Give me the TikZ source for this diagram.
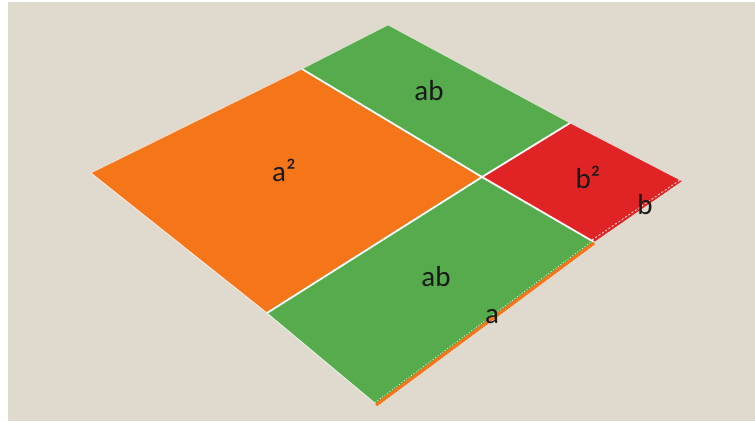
\documentclass[tikz,border=0pt]{standalone}
\usepackage{fontspec}
\setmainfont{Carlito}
\usetikzlibrary{calc}
\definecolor{bg}{HTML}{E0D9CE}
\definecolor{org}{HTML}{F57519}
\definecolor{grn}{HTML}{56AB4C}
\definecolor{rd}{HTML}{E02426}
\begin{document}
\begin{tikzpicture}[x=1pt,y=-1pt,
  lbl/.style={font=\fontsize{29}{31}\selectfont,text=black!90,inner sep=0pt}]
\useasboundingbox (0,0) rectangle (755,421);
\fill[white] (0,0) rectangle (755,421);
\fill[bg] (8,2) rectangle (755,421);
% vertices
\coordinate (L) at (91,173);
\coordinate (T1) at (302,69);
\coordinate (C) at (482,177);
\coordinate (B1) at (267,313);
\coordinate (T2) at (388,25);
\coordinate (R1) at (570,123);
\coordinate (R2) at (682,181);
\coordinate (R3) at (594,242);
\coordinate (B2) at (376,404);
% faces
\fill[org] (L) -- (T1) -- (C) -- (B1) -- cycle;
\fill[grn] (T1) -- (T2) -- (R1) -- (C) -- cycle;
\fill[rd] (C) -- (R1) -- (R2) -- (R3) -- cycle;
\fill[grn] (C) -- (R3) -- (B2) -- (B1) -- cycle;
% separating lines
\draw[white,line width=1.8pt] (T1) -- (C) -- (B1);
\draw[white,line width=1.8pt] (R1) -- (C) -- (R3);
\draw[white,line width=0.6pt,opacity=0.6] (L) -- (T1) -- (T2) -- (R1) -- (R2);
\draw[white,line width=0.8pt,opacity=0.8] (B2) -- (B1) -- (L);
% bottom-right edges
\draw[org,line width=3.2pt] ($(B2)+(0,1)$) -- ($(R3)+(0,1)$);
\draw[white,line width=0.6pt,dash pattern=on 1pt off 2pt] ($(B2)+(-1,-1.5)$) -- ($(R3)+(-1,-1.5)$);
\draw[white,line width=0.7pt,dash pattern=on 2pt off 2pt] ($(R3)+(-2,-2)$) -- ($(R2)+(-2,-1)$);
% labels
\node[lbl] (a2) at (284,170) {a²};
\node[lbl] (ab1) at (429,91) {ab};
\node[lbl] (b2) at (588,177) {b²};
\node[lbl] (b) at (645,205) {b};
\node[lbl] (ab2) at (436,277) {ab};
\node[lbl] (a) at (492,317) {a};
\end{tikzpicture}
\end{document}
